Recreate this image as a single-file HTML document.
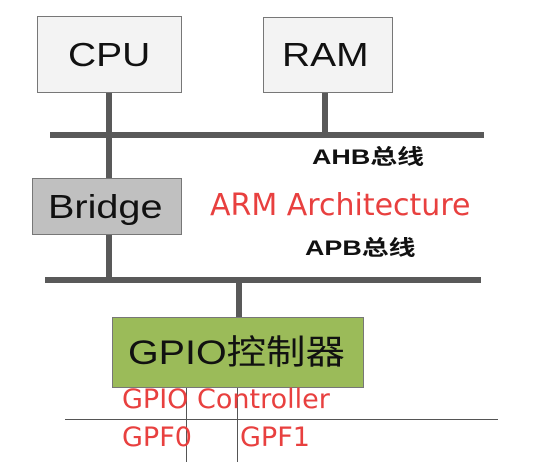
<!DOCTYPE html>
<html><head><meta charset="utf-8"><style>
body{margin:0;width:548px;height:462px;background:#fff;position:relative;overflow:hidden;font-family:"Liberation Sans","Noto Sans CJK SC",sans-serif}
div{position:absolute;box-sizing:border-box}
.box{border:1px solid #777}
.t{position:absolute;white-space:nowrap;color:#111;transform-origin:0 50%;line-height:1}
.bar{background:#595959}
.red{color:#e8403f;white-space:nowrap;font-family:"DejaVu Sans","Liberation Sans",sans-serif;line-height:1}
.lbl{font-weight:bold;font-size:21px;white-space:nowrap;color:#111;transform:scaleX(1.28);transform-origin:0 50%;line-height:1}
.thin{background:#555}
</style></head><body>
<div class="bar" style="left:106px;top:93px;width:6px;height:190px"></div>
<div class="bar" style="left:322px;top:93px;width:6px;height:42px"></div>
<div class="bar" style="left:50px;top:132px;width:434px;height:6px"></div>
<div class="bar" style="left:45px;top:277px;width:436px;height:6px"></div>
<div class="bar" style="left:236px;top:283px;width:6px;height:35px"></div>
<div class="box" style="left:37px;top:16px;width:145px;height:77px;background:#f3f3f3"><span class="t" style="left:30px;top:21px;font-size:33px;transform:scaleX(1.18)">CPU</span></div>
<div class="box" style="left:263px;top:17px;width:130px;height:76px;background:#f3f3f3"><span class="t" style="left:18px;top:20px;font-size:33px;transform:scaleX(1.18)">RAM</span></div>
<div class="lbl" style="left:312px;top:147px">AHB总线</div>
<div class="box" style="left:32px;top:178px;width:150px;height:57px;background:#c0c0c0"><span class="t" style="left:15px;top:11px;font-size:33px;transform:scaleX(1.2)">Bridge</span></div>
<div class="red" style="left:210px;top:191px;font-size:30px">ARM Architecture</div>
<div class="lbl" style="left:305px;top:238px">APB总线</div>
<div class="box" style="left:112px;top:317px;width:252px;height:71px;background:#9bbb59"><span class="t" style="left:15px;top:18px;font-size:34px;transform:scaleX(1.16)">GPIO控制器</span></div>
<div class="thin" style="left:65px;top:419px;width:433px;height:1px"></div>
<div class="thin" style="left:186px;top:388px;width:1px;height:74px"></div>
<div class="thin" style="left:237px;top:388px;width:1px;height:74px"></div>
<div class="red" style="left:122px;top:386px;font-size:27px">GPIO Controller</div>
<div class="red" style="left:122px;top:424px;font-size:27px">GPF0</div>
<div class="red" style="left:240px;top:424px;font-size:27px">GPF1</div>
</body></html>
